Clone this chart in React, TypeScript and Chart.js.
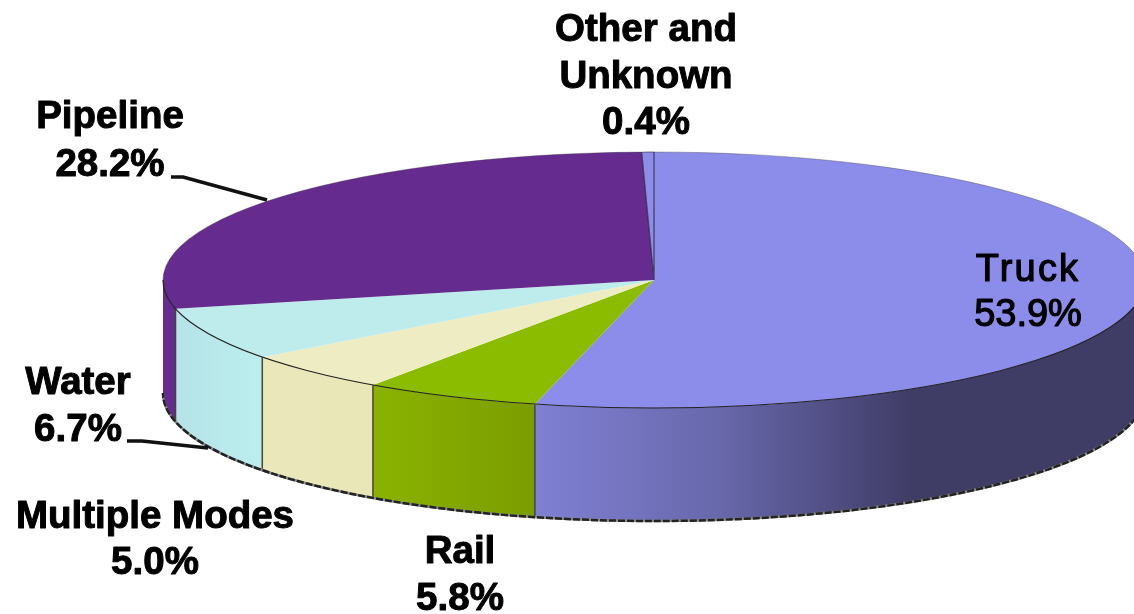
import React, { useEffect, useRef } from "react";
import { Chart, registerables } from "chart.js";

Chart.register(...registerables);

const categories = ["Truck", "Rail", "Multiple Modes", "Water", "Pipeline", "Other and Unknown"];
const shares = [53.9, 5.8, 5.0, 6.7, 28.2, 0.4];

const topColors = ["#8C8CEB", "#8CBC00", "#EEECC2", "#BEECEC", "#662B8F", "#8C8CEB"];
const sliceBorders = [0, 0, 0, 0, 0, 0.7];
const wallStops: [number, string][][] = [
  [[0, "#8080D4"], [0.3, "#6868AC"], [0.62, "#3F3C66"], [1, "#3F3C66"]],
  [[0, "#8AB300"], [1, "#7B9D00"]],
  [[0, "#EAE7BA"], [1, "#E9E6B8"]],
  [[0, "#B5E3E8"], [1, "#BCEEEE"]],
  [[0, "#662B8F"], [1, "#662B8F"]],
  [[0, "#8C8CEB"], [1, "#8C8CEB"]],
];

// label text lines, centre x and the baseline of each line
const labelBlocks = [
  { lines: ["Truck", "53.9%"], x: 1028, ys: [281, 326], thin: true },
  { lines: ["Rail", "5.8%"], x: 460, ys: [563, 610] },
  { lines: ["Multiple Modes", "5.0%"], x: 155, ys: [528, 574] },
  { lines: ["Water", "6.7%"], x: 78, ys: [394, 441] },
  { lines: ["Pipeline", "28.2%"], x: 110, ys: [128, 176] },
  { lines: ["Other and", "Unknown", "0.4%"], x: 646, ys: [41, 88, 134] },
];
const leaders = [
  [[171, 177], [183, 177], [267, 200]],
  [[127, 441], [142, 441], [208, 448]],
];

const RX = 491;
const RY = 128;
const DEPTH = 113;

const pie3d = {
  id: "pie3d",
  beforeDatasetsDraw(chart: any) {
    const ctx = chart.ctx;
    const arcs = chart.getDatasetMeta(0).data;
    const { x: cx, y: cy, outerRadius } = arcs[0];
    ctx.save();
    arcs.forEach((arc: any, i: number) => {
      const a0 = Math.max(arc.startAngle, 0);
      const a1 = Math.min(arc.endAngle, Math.PI);
      if (a1 <= a0) return;
      const x0 = cx + RX * Math.cos(a1);
      const x1 = a0 === 0 ? cx + RX : cx + RX * Math.cos(a0);
      const g = ctx.createLinearGradient(x0, 0, x1, 0);
      wallStops[i].forEach(([p, c]) => g.addColorStop(p, c));
      ctx.beginPath();
      ctx.ellipse(cx, cy, RX, RY, 0, a0, a1);
      ctx.ellipse(cx, cy + DEPTH, RX, RY, 0, a1, a0, true);
      ctx.closePath();
      ctx.fillStyle = g;
      ctx.fill();
    });
    // vertical seams between the walls
    arcs.forEach((arc: any) => {
      const a1 = arc.endAngle;
      if (a1 <= 0 || a1 >= Math.PI) return;
      ctx.beginPath();
      ctx.moveTo(cx + RX * Math.cos(a1), cy + RY * Math.sin(a1));
      ctx.lineTo(cx + RX * Math.cos(a1), cy + DEPTH + RY * Math.sin(a1));
      ctx.strokeStyle = "#45453a";
      ctx.lineWidth = 1.5;
      ctx.stroke();
    });
    // bottom rim
    ctx.beginPath();
    ctx.ellipse(cx, cy + DEPTH, RX, RY, 0, 0, Math.PI);
    ctx.strokeStyle = "#8a8a8a";
    ctx.lineWidth = 2.5;
    ctx.stroke();
    ctx.setLineDash([7, 2]);
    ctx.strokeStyle = "#222";
    ctx.stroke();
    ctx.setLineDash([]);
    ctx.restore();

    ctx.save();
    ctx.translate(cx, cy);
    ctx.scale(RX / outerRadius, RY / outerRadius);
    ctx.translate(-cx, -cy);
  },
  afterDatasetsDraw(chart: any) {
    const ctx = chart.ctx;
    ctx.restore();
    const { x: cx, y: cy } = chart.getDatasetMeta(0).data[0];
    ctx.save();
    // thin rim of the top face
    ctx.beginPath();
    ctx.ellipse(cx, cy, RX, RY, 0, 0, Math.PI);
    ctx.strokeStyle = "#222";
    ctx.lineWidth = 1.2;
    ctx.stroke();
    ctx.beginPath();
    ctx.ellipse(cx, cy, RX, RY, 0, Math.PI, Math.PI * 2);
    ctx.strokeStyle = "rgba(60,60,60,0.35)";
    ctx.lineWidth = 1;
    ctx.stroke();
    ctx.restore();
  },
  afterDraw(chart: any) {
    const ctx = chart.ctx;
    ctx.save();
    ctx.strokeStyle = "#111";
    ctx.lineWidth = 3.5;
    leaders.forEach((pts) => {
      ctx.beginPath();
      pts.forEach(([x, y], i) => (i ? ctx.lineTo(x, y) : ctx.moveTo(x, y)));
      ctx.stroke();
    });
    ctx.textAlign = "center";
    ctx.textBaseline = "alphabetic";
    ctx.fillStyle = "#000";
    ctx.strokeStyle = "#000";
    ctx.lineJoin = "round";
    labelBlocks.forEach((b: any) => {
      if (b.thin) {
        ctx.font = '38px "Liberation Sans"';
        ctx.lineWidth = 1.2;
      } else {
        ctx.font = 'bold 38.5px "Liberation Sans"';
        ctx.lineWidth = 1;
      }
      b.lines.forEach((t: string, i: number) => {
        ctx.letterSpacing = b.thin && i === 0 ? "2.2px" : "0px";
        ctx.fillText(t, b.x, b.ys[i]);
        ctx.strokeText(t, b.x, b.ys[i]);
      });
    });
    ctx.restore();
  },
};

export default function App() {
  const ref = useRef<HTMLCanvasElement>(null);
  useEffect(() => {
    const chart = new Chart(ref.current!, {
      type: "pie",
      data: {
        labels: categories,
        datasets: [
          {
            data: shares,
            backgroundColor: topColors,
            borderColor: "rgba(30,30,30,0.7)",
            borderWidth: sliceBorders,
            clip: false,
          } as any,
        ],
      },
      options: {
        responsive: false,
        animation: false,
        layout: { padding: { left: 174, right: 0, top: 0, bottom: 54 } },
        plugins: { legend: { display: false }, tooltip: { enabled: false }, title: { display: false } },
      },
      plugins: [pie3d],
    });
    return () => chart.destroy();
  }, []);
  return (
    <div style={{ position: "absolute", left: 0, top: 0, width: 1134, height: 614, background: "#fff", overflow: "hidden" }}>
      <canvas ref={ref} width={1134} height={614} />
    </div>
  );
}
